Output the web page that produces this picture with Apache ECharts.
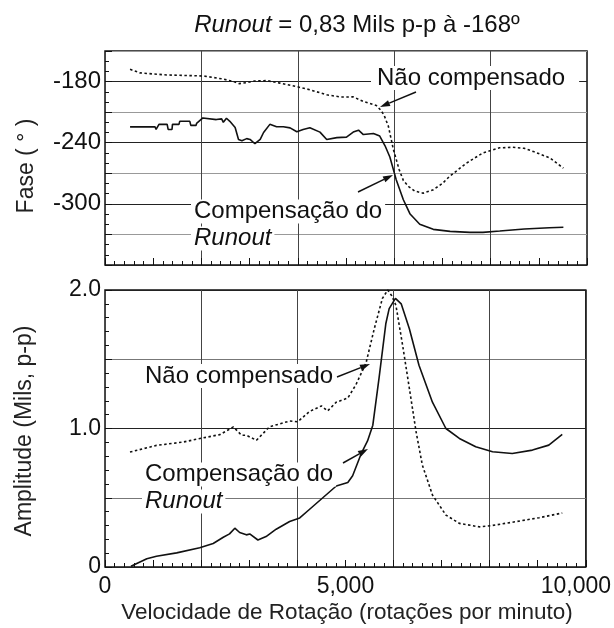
<!DOCTYPE html>
<html><head><meta charset="utf-8">
<script src="https://cdn.jsdelivr.net/npm/echarts@6/dist/echarts.min.js"></script>
<style>html,body{margin:0;padding:0;background:#fff}#c{width:614px;height:628px}</style>
</head><body><div id="c"></div>
<script>
// ---- data ----
const rpmFaseNaoComp = [520, 730, 1000, 1280, 1650, 2040, 2450, 2700, 2780, 2940, 3100, 3350, 3630, 3980, 4250, 4600, 4900, 5150, 5360, 5630, 5720, 5790, 5880, 5980, 6100, 6190, 6300, 6430, 6600, 6800, 7000, 7150, 7500, 7840, 8190, 8460, 8700, 8880, 9230, 9510];
const faseNaoComp = [-168, -171.5, -172.5, -173.5, -174, -174.5, -177.5, -180.5, -182, -181, -179.5, -179, -181.5, -185, -188, -193, -195.2, -195, -199.5, -203.5, -208, -213, -224, -246, -266, -277, -283, -287.5, -289.5, -286.5, -280, -273, -260, -250, -245, -244.5, -245.5, -248.5, -255, -265];

const rpmFaseComp = [520, 1040, 1060, 1120, 1290, 1310, 1390, 1400, 1535, 1550, 1760, 1780, 1890, 1900, 2030, 2310, 2420, 2455, 2520, 2590, 2700, 2770, 2840, 2940, 3010, 3110, 3220, 3290, 3420, 3560, 3700, 3840, 3980, 4110, 4250, 4460, 4600, 4810, 5010, 5150, 5260, 5360, 5570, 5700, 5810, 5910, 6040, 6190, 6250, 6330, 6530, 6810, 7160, 7570, 7840, 8190, 8700, 9220, 9510];
const faseComp = [-224.5, -224.5, -227, -222, -222, -227, -227, -222, -222, -219, -219, -223, -223, -221, -215.7, -217.3, -216.6, -220, -216, -219, -225, -236.8, -238, -236, -236.8, -241, -236.8, -230, -222, -224.4, -224.4, -225.4, -229.3, -227, -225.4, -229.6, -236.8, -235, -234.5, -229.6, -227.7, -232, -231, -233.5, -243, -254, -276, -296, -302, -310, -320, -325, -327, -328, -328, -326.7, -324.6, -323.5, -323];

const rpmAmpNaoComp = [520, 1070, 1620, 2040, 2390, 2670, 2840, 2940, 3150, 3420, 3840, 4010, 4250, 4500, 4630, 4810, 5050, 5220, 5430, 5600, 5770, 5880, 5960, 6050, 6190, 6330, 6470, 6600, 6810, 7090, 7370, 7780, 8060, 8540, 9030, 9510];
const ampNaoComp = [0.83, 0.878, 0.902, 0.932, 0.956, 1.012, 0.951, 0.951, 0.915, 1.012, 1.054, 1.049, 1.122, 1.163, 1.127, 1.19, 1.22, 1.317, 1.475, 1.72, 1.94, 2.0, 1.96, 1.89, 1.6, 1.29, 0.976, 0.736, 0.52, 0.375, 0.315, 0.29, 0.30, 0.327, 0.356, 0.39];

const rpmAmpComp = [540, 870, 1070, 1490, 1970, 2250, 2460, 2590, 2700, 2800, 2940, 3010, 3180, 3350, 3560, 3840, 4050, 4250, 4530, 4810, 5050, 5150, 5330, 5460, 5570, 5700, 5840, 5910, 6040, 6160, 6330, 6530, 6810, 7090, 7370, 7710, 8060, 8470, 8890, 9230, 9510];
const ampComp = [0.005, 0.06, 0.078, 0.102, 0.139, 0.17, 0.215, 0.239, 0.28, 0.249, 0.232, 0.239, 0.195, 0.22, 0.273, 0.329, 0.354, 0.415, 0.5, 0.585, 0.61, 0.659, 0.82, 0.91, 1.024, 1.366, 1.756, 1.865, 1.94, 1.9, 1.72, 1.457, 1.19, 1.0, 0.928, 0.868, 0.832, 0.82, 0.844, 0.88, 0.957];

const faseTickValues = [-180, -240, -300];
const faseTickLabels = ['-180', '-240', '-300'];
const ampTickValues = [0, 1, 2];
const ampTickLabels = ['0', '1.0', '2.0'];
const rpmTickValues = [0, 5000, 10000];
const rpmTickLabels = ['0', '5,000', '10,000'];

const titleText = ['Runout', ' = 0,83 Mils p-p à -168º'];
const labelNao = 'Não compensado';
const labelComp = ['Compensação do', 'Runout'];
const nameFase = 'Fase ( ° )';
const nameAmp = 'Amplitude (Mils, p-p)';
const nameRpm = 'Velocidade de Rotação (rotações por minuto)';

// ---- build ----
const FONT = '"Liberation Sans", Arial, sans-serif';
const INK = '#111';
const zip = (xs, ys) => xs.map((x, i) => [x, ys[i]]);
const fmt = (vals, labs) => v => { const i = vals.findIndex(t => Math.abs(t - v) < 1e-9); return i >= 0 ? labs[i] : ''; };

function xAxisCfg(gi, showLabels) {
  return {
    type: 'value', gridIndex: gi, min: 0, max: 10000, interval: 1000,
    axisLine: { show: false },
    axisTick: { show: true, inside: true, length: 7, lineStyle: { color: INK, width: 1 } },
    minorTick: { show: true, splitNumber: 5, length: 4, lineStyle: { color: INK, width: 1 } },
    splitLine: { show: true, lineStyle: { color: ['#444', 'rgba(0,0,0,0)'], width: 1 } },
    axisLabel: showLabels ? {
      show: true, margin: 8, color: INK, fontSize: 23, fontFamily: FONT,
      formatter: v => { const s = fmt(rpmTickValues, rpmTickLabels)(v); return v === 10000 ? '{r|' + s + '}' : s; },
      rich: { r: { fontSize: 23, fontFamily: FONT, color: INK, padding: [0, 20, 0, 0] } }
    } : { show: false }
  };
}

const option = {
  animation: false,
  backgroundColor: '#fff',
  textStyle: { fontFamily: FONT },
  grid: [
    { left: 105, top: 51, width: 482, height: 214, show: true, borderColor: INK, borderWidth: 1.5, backgroundColor: 'rgba(0,0,0,0)' },
    { left: 105, top: 290, width: 482, height: 277, show: true, borderColor: INK, borderWidth: 1.5, backgroundColor: 'rgba(0,0,0,0)' }
  ],
  xAxis: [xAxisCfg(0, false), xAxisCfg(1, true)],
  yAxis: [
    {
      type: 'value', gridIndex: 0, min: -360, max: -150, interval: 30,
      axisLine: { show: false },
      axisTick: { show: true, inside: true, length: 7, lineStyle: { color: INK } },
      minorTick: { show: true, splitNumber: 3, length: 4, lineStyle: { color: INK } },
      splitLine: { show: true, lineStyle: { color: ['#222', '#999'], width: 1 } },
      axisLabel: { margin: 4, color: INK, fontSize: 24, fontFamily: FONT, formatter: fmt(faseTickValues, faseTickLabels) }
    },
    {
      type: 'value', gridIndex: 1, min: 0, max: 2, interval: 0.5,
      axisLine: { show: false },
      axisTick: { show: true, inside: true, length: 7, lineStyle: { color: INK } },
      minorTick: { show: true, splitNumber: 5, length: 4, lineStyle: { color: INK } },
      splitLine: { show: true, lineStyle: { color: ['#222', '#777'], width: 1 } },
      axisLabel: { margin: 4, color: INK, fontSize: 23, fontFamily: FONT, formatter: fmt(ampTickValues, ampTickLabels) }
    }
  ],
  series: [
    { type: 'line', xAxisIndex: 0, yAxisIndex: 0, data: zip(rpmFaseNaoComp, faseNaoComp), showSymbol: false, lineStyle: { color: INK, width: 1.6, type: [2.5, 2.5] }, z: 3 },
    { type: 'line', xAxisIndex: 0, yAxisIndex: 0, data: zip(rpmFaseComp, faseComp), showSymbol: false, lineStyle: { color: INK, width: 1.6 }, z: 3 },
    { type: 'line', xAxisIndex: 1, yAxisIndex: 1, data: zip(rpmAmpNaoComp, ampNaoComp), showSymbol: false, lineStyle: { color: INK, width: 1.6, type: [2.5, 2.5] }, z: 3 },
    { type: 'line', xAxisIndex: 1, yAxisIndex: 1, data: zip(rpmAmpComp, ampComp), showSymbol: false, lineStyle: { color: INK, width: 1.6 }, z: 3 }
  ]
};

// annotations (pixel layout)
function arrow(x1, y1, x2, y2) {
  const ang = Math.atan2(y2 - y1, x2 - x1), L = 10, W = 3.2;
  const bx = x2 - L * Math.cos(ang), by = y2 - L * Math.sin(ang);
  const px = -Math.sin(ang) * W, py = Math.cos(ang) * W;
  return [
    { type: 'line', shape: { x1: x1, y1: y1, x2: bx, y2: by }, style: { stroke: INK, lineWidth: 1.5 }, z: 20 },
    { type: 'polygon', shape: { points: [[x2, y2], [bx + px, by + py], [bx - px, by - py]] }, style: { fill: INK }, z: 20 }
  ];
}
const FS = 24;
const richStyles = {
  n: { fontSize: FS, fontFamily: FONT, fill: INK, lineHeight: 27 },
  i: { fontSize: FS, fontFamily: FONT, fontStyle: 'italic', fill: INK, lineHeight: 27 },
  nb: { fontSize: FS, fontFamily: FONT, fill: INK, lineHeight: 27, backgroundColor: '#fff', padding: [0, 3] },
  ib: { fontSize: FS, fontFamily: FONT, fontStyle: 'italic', fill: INK, lineHeight: 27, backgroundColor: '#fff', padding: [0, 3] },
  nw: { fontSize: FS, fontFamily: FONT, fill: INK, lineHeight: 27, backgroundColor: '#fff', padding: [0, 14, 0, 6] }
};
function txt(x, y, text, va) {
  return { type: 'text', x: x, y: y, z: 10, style: {
    text: text, rich: richStyles, fontSize: FS, fontFamily: FONT, fill: INK,
    align: 'left', verticalAlign: va } };
}
function vname(x, y, text) {
  return { type: 'text', x: x, y: y, rotation: Math.PI / 2, z: 10, style: {
    text: text, fontSize: 23, fontFamily: FONT, fill: '#222', align: 'center', verticalAlign: 'middle' } };
}
option.graphic = [
  { type: 'text', x: 357, y: 25, z: 10, style: { text: '{i|' + titleText[0] + '}{n|' + titleText[1] + '}', rich: richStyles, fontSize: FS, fontFamily: FONT, fill: INK, align: 'center', verticalAlign: 'middle' } },
  txt(371, 78, '{nw|' + labelNao + '}', 'middle'),
  txt(191, 198, '{nb|' + labelComp[0] + '}\n{ib|' + labelComp[1] + '}', 'top'),
  txt(142, 376, '{nb|' + labelNao + '}', 'middle'),
  txt(142, 461, '{nb|' + labelComp[0] + '}\n{ib|' + labelComp[1] + '}', 'top'),
  vname(27, 166, nameFase),
  vname(25, 431, nameAmp),
  { type: 'text', x: 347, y: 613, z: 10, style: { text: nameRpm, fontSize: 22.5, fontFamily: FONT, fill: '#222', align: 'center', verticalAlign: 'middle' } }
].concat(arrow(416, 92, 380, 107), arrow(358, 192, 393, 175), arrow(337, 377, 370, 364), arrow(343, 463, 368, 449));

const chart = echarts.init(document.getElementById('c'), null, { renderer: 'canvas' });
chart.setOption(option);
</script>
</body></html>
